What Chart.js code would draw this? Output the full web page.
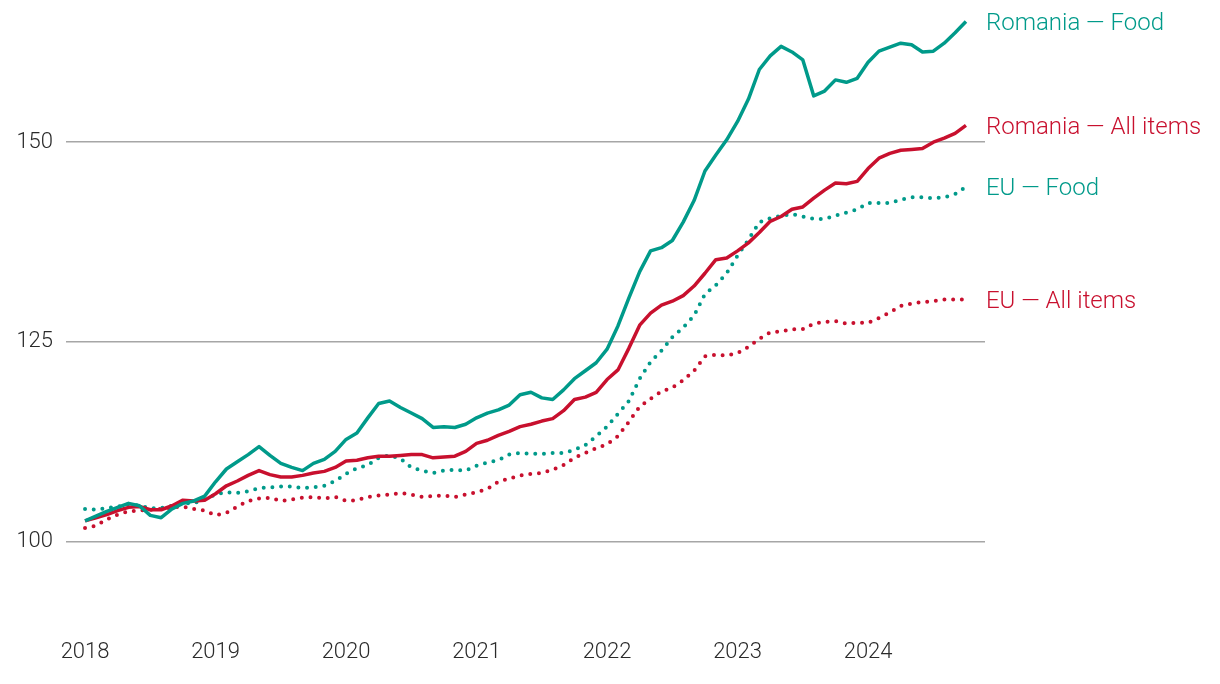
<!DOCTYPE html>
<html>
<head>
<meta charset="utf-8">
<script src="https://cdn.jsdelivr.net/npm/chart.js@4"></script>
<style>
  html, body { margin: 0; padding: 0; background: #ffffff; }
  #wrap { width: 1220px; height: 684px; position: relative; }
</style>
</head>
<body>
<div id="wrap"><canvas id="c" width="1220" height="684"></canvas></div>
<script>
// Months from Jan 2018 (0) to Oct 2024 (81)
const startYear = 2018;
const yearTicks = [2018, 2019, 2020, 2021, 2022, 2023, 2024];
const yTicks = [100, 125, 150];

const romaniaFood = [
  102.6, 103.2, 103.8, 104.3, 104.8, 104.5, 103.3, 103.0, 104.1, 104.8, 105.1, 105.7,
  107.5, 109.1, 110.0, 110.9, 111.9, 110.8, 109.8, 109.3, 108.9, 109.8, 110.3, 111.3,
  112.8, 113.6, 115.5, 117.3, 117.6, 116.8, 116.1, 115.4, 114.3, 114.4, 114.3, 114.7,
  115.5, 116.1, 116.5, 117.1, 118.4, 118.7, 118.0, 117.8, 119.0, 120.4, 121.4, 122.4,
  124.1, 127.0, 130.5, 133.8, 136.4, 136.8, 137.7, 140.0, 142.7, 146.4, 148.4, 150.3,
  152.6, 155.4, 159.1, 160.8, 162.0, 161.3, 160.3, 155.8, 156.4, 157.8, 157.5, 158.0,
  160.0, 161.4, 161.9, 162.4, 162.2, 161.3, 161.4, 162.4, 163.7, 165.1
];
const romaniaAll = [
  102.6, 103.0, 103.4, 103.9, 104.3, 104.4, 104.0, 104.0, 104.5, 105.2, 105.1, 105.2,
  106.0, 107.0, 107.6, 108.3, 108.9, 108.4, 108.1, 108.1, 108.3, 108.6, 108.8, 109.3,
  110.1, 110.2, 110.5, 110.7, 110.7, 110.8, 110.9, 110.9, 110.5, 110.6, 110.7, 111.3,
  112.3, 112.7, 113.3, 113.8, 114.4, 114.7, 115.1, 115.4, 116.4, 117.8, 118.1, 118.7,
  120.3, 121.5, 124.2, 127.1, 128.6, 129.6, 130.1, 130.8, 132.0, 133.6, 135.3, 135.5,
  136.4, 137.4, 138.7, 140.1, 140.7, 141.6, 141.9, 143.0, 144.0, 144.9, 144.8, 145.1,
  146.7, 148.0, 148.6, 149.0, 149.1, 149.2, 150.0, 150.5, 151.1, 152.1
];
const euFood = [
  104.1, 104.0, 104.2, 104.4, 104.7, 104.5, 104.2, 104.2, 104.5, 104.8, 104.8, 105.3,
  105.9, 106.2, 106.1, 106.3, 106.7, 106.8, 106.9, 106.9, 106.7, 106.8, 107.0, 107.6,
  108.5, 109.2, 109.6, 110.5, 110.8, 110.4, 109.3, 108.9, 108.6, 108.9, 109.0, 108.9,
  109.5, 109.9, 110.2, 110.9, 111.1, 111.0, 111.0, 111.1, 111.1, 111.5, 112.1, 113.2,
  114.4, 116.0, 117.6, 120.4, 122.5, 123.9, 125.6, 126.8, 128.3, 131.0, 132.1, 133.6,
  135.8, 137.8, 140.0, 140.5, 140.8, 141.0, 140.7, 140.4, 140.4, 140.8, 141.2, 141.6,
  142.4, 142.4, 142.4, 142.8, 143.1, 143.1, 143.0, 143.1, 143.5, 144.4
];
const euAll = [
  101.7, 102.0, 102.8, 103.4, 103.8, 103.9, 104.0, 104.1, 104.3, 104.4, 104.1, 103.9,
  103.3, 103.6, 104.4, 105.1, 105.4, 105.5, 105.1, 105.3, 105.5, 105.6, 105.4, 105.6,
  105.1, 105.2, 105.6, 105.8, 105.9, 106.1, 105.9, 105.6, 105.7, 105.8, 105.6, 105.9,
  106.2, 106.6, 107.5, 107.9, 108.3, 108.5, 108.6, 109.0, 109.6, 110.5, 111.1, 111.7,
  112.2, 113.2, 115.0, 116.9, 117.9, 118.8, 119.3, 120.2, 121.4, 123.2, 123.4, 123.3,
  123.6, 124.4, 125.4, 126.2, 126.3, 126.6, 126.6, 127.3, 127.5, 127.6, 127.3, 127.4,
  127.4, 128.0, 128.7, 129.5, 129.8, 130.0, 130.1, 130.3, 130.3, 130.3
];

const seriesNames = ['Romania — Food', 'Romania — All items', 'EU — Food', 'EU — All items'];

const TEAL = '#009A8A';
const RED = '#C8102E';
const FONT = 'Roboto, "Noto Sans", sans-serif';

function toPoints(arr) {
  return arr.map((v, i) => ({ x: i, y: v }));
}

function zeroPadding(scale) {
  scale.paddingTop = 0;
  scale.paddingBottom = 0;
  scale.paddingLeft = 0;
  scale.paddingRight = 0;
}

const endLabels = {
  id: 'endLabels',
  afterDatasetsDraw(chart) {
    const ctx = chart.ctx;
    ctx.save();
    ctx.font = '300 24px ' + FONT;
    ctx.textAlign = 'left';
    ctx.textBaseline = 'middle';
    chart.data.datasets.forEach((ds, i) => {
      const meta = chart.getDatasetMeta(i);
      const last = meta.data[meta.data.length - 1];
      ctx.fillStyle = ds.borderColor;
      ctx.fillText(ds.label, last.x + 20, last.y + 2.5);
    });
    ctx.restore();
  }
};

new Chart(document.getElementById('c'), {
  type: 'line',
  data: {
    datasets: [
      { label: seriesNames[0], data: toPoints(romaniaFood), borderColor: TEAL, borderWidth: 3.5 },
      { label: seriesNames[1], data: toPoints(romaniaAll), borderColor: RED, borderWidth: 3.5 },
      { label: seriesNames[2], data: toPoints(euFood), borderColor: TEAL, borderWidth: 4, borderDash: [0, 8.7], borderCapStyle: 'round' },
      { label: seriesNames[3], data: toPoints(euAll), borderColor: RED, borderWidth: 4, borderDash: [0, 8.7], borderCapStyle: 'round' }
    ]
  },
  options: {
    responsive: false,
    animation: false,
    devicePixelRatio: 1,
    layout: { padding: { top: 0, right: 235, bottom: 0, left: 0 } },
    elements: {
      point: { radius: 0, hoverRadius: 0 },
      line: { tension: 0, borderJoinStyle: 'round', fill: false }
    },
    plugins: {
      legend: { display: false },
      tooltip: { enabled: false }
    },
    scales: {
      x: {
        type: 'linear',
        min: -1.75,
        max: 82.75,
        grid: { display: false, drawTicks: false },
        border: { display: false },
        afterBuildTicks(scale) {
          scale.ticks = yearTicks.map(y => ({ value: (y - startYear) * 12 }));
        },
        afterFit: zeroPadding,
        ticks: {
          autoSkip: false,
          maxRotation: 0,
          padding: 18,
          color: '#2a2a2a',
          font: { family: FONT, size: 22, weight: '300' },
          callback: v => String(startYear + Math.round(v / 12))
        }
      },
      y: {
        min: 90,
        max: 167.8,
        afterBuildTicks(scale) {
          scale.ticks = yTicks.map(v => ({ value: v }));
        },
        afterFit(scale) { scale.width = 66; zeroPadding(scale); },
        grid: { color: '#A6A6A6', lineWidth: 1.5, drawTicks: false },
        border: { display: false },
        ticks: {
          padding: 13,
          color: '#2a2a2a',
          font: { family: FONT, size: 22, weight: '300' }
        }
      }
    }
  },
  plugins: [endLabels]
});
</script>
</body>
</html>
